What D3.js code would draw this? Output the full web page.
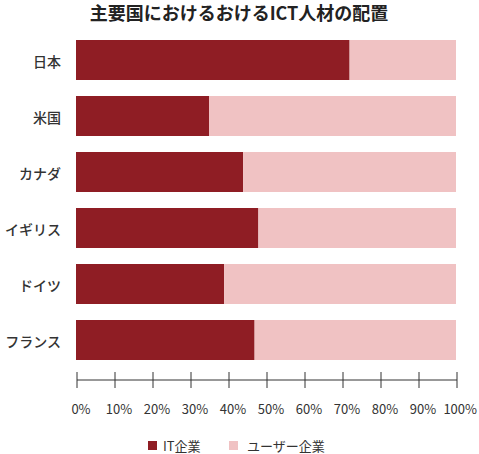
<!DOCTYPE html>
<html>
<head>
<meta charset="utf-8">
<script src="https://cdn.jsdelivr.net/npm/d3@7"></script>
<style>
  body { margin: 0; background: #fff; }
  svg { display: block; font-family: "Noto Sans CJK JP", "Noto Sans", sans-serif; }
</style>
</head>
<body>
<svg id="chart" width="479" height="454"></svg>
<script>
// data (percent)
const countries = ["日本", "米国", "カナダ", "イギリス", "ドイツ", "フランス"];
const itCompanies = [72, 35, 44, 48, 39, 47];
const userCompanies = [28, 65, 56, 52, 61, 53];
const seriesNames = ["IT企業", "ユーザー企業"];
const seriesColors = ["#8f1d24", "#f0c2c3"];
const tickValues = [0, 10, 20, 30, 40, 50, 60, 70, 80, 90, 100];

const rows = countries.map((c, i) => ({ country: c, it: itCompanies[i], user: userCompanies[i] }));

const svg = d3.select("#chart");
const W = 479;

const x = d3.scaleLinear().domain([0, 100]).range([76, 456]);
const y = d3.scaleBand()
  .domain(countries)
  .range([40, 360])
  .paddingInner(16 / 56)
  .paddingOuter(0);

const color = d3.scaleOrdinal().domain(["it", "user"]).range(seriesColors);

// title
svg.append("text")
  .attr("x", 239)
  .attr("y", 12)
  .attr("text-anchor", "middle")
  .attr("dominant-baseline", "central")
  .style("font-size", "18px")
  .style("font-weight", "bold")
  .style("fill", "#222")
  .text("主要国におけるおけるICT人材の配置");

// stacked bars
const stacked = d3.stack().keys(["it", "user"])(rows);

svg.append("g")
  .selectAll("g")
  .data(stacked)
  .join("g")
  .attr("fill", d => color(d.key))
  .selectAll("rect")
  .data(d => d)
  .join("rect")
  .attr("x", d => x(d[0]))
  .attr("y", d => y(d.data.country))
  .attr("width", d => x(d[1]) - x(d[0]))
  .attr("height", y.bandwidth());

// category labels
svg.append("g")
  .selectAll("text")
  .data(countries)
  .join("text")
  .attr("x", 61)
  .attr("y", d => y(d) + y.bandwidth() / 2 + 1)
  .attr("text-anchor", "end")
  .attr("dominant-baseline", "central")
  .style("font-size", "14px")
  .style("font-weight", "500")
  .style("fill", "#333")
  .text(d => d);

// x axis: line with ticks crossing it
const axisY = 380;
const axis = svg.append("g").attr("transform", "translate(1,0)");
axis.append("line")
  .attr("x1", x(0)).attr("x2", x(100))
  .attr("y1", axisY).attr("y2", axisY)
  .attr("stroke", "#333");
axis.selectAll(".tick")
  .data(tickValues)
  .join("line")
  .attr("class", "tick")
  .attr("x1", d => x(d)).attr("x2", d => x(d))
  .attr("y1", axisY - 8).attr("y2", axisY + 8)
  .attr("stroke", "#333");

// tick labels, last one kept inside the frame
axis.selectAll(".tick-label")
  .data(tickValues)
  .join("text")
  .attr("class", "tick-label")
  .attr("x", d => d === 100 ? W - 3 : x(d) + 4)
  .attr("y", 408)
  .attr("text-anchor", d => d === 100 ? "end" : "middle")
  .attr("dominant-baseline", "central")
  .style("font-size", "13px")
  .style("fill", "#333")
  .text(d => d + "%");

// legend
const legendX = [148, 229];
const legend = svg.append("g")
  .selectAll("g")
  .data(seriesNames)
  .join("g")
  .attr("transform", (d, i) => `translate(${legendX[i]},440)`);
legend.append("rect")
  .attr("y", 1)
  .attr("width", 9)
  .attr("height", 9)
  .attr("fill", (d, i) => seriesColors[i]);
legend.append("text")
  .attr("x", (d, i) => i === 0 ? 15 : 18)
  .attr("y", 5)
  .attr("dominant-baseline", "central")
  .style("font-size", "13px")
  .style("fill", "#333")
  .text(d => d);
</script>
</body>
</html>
